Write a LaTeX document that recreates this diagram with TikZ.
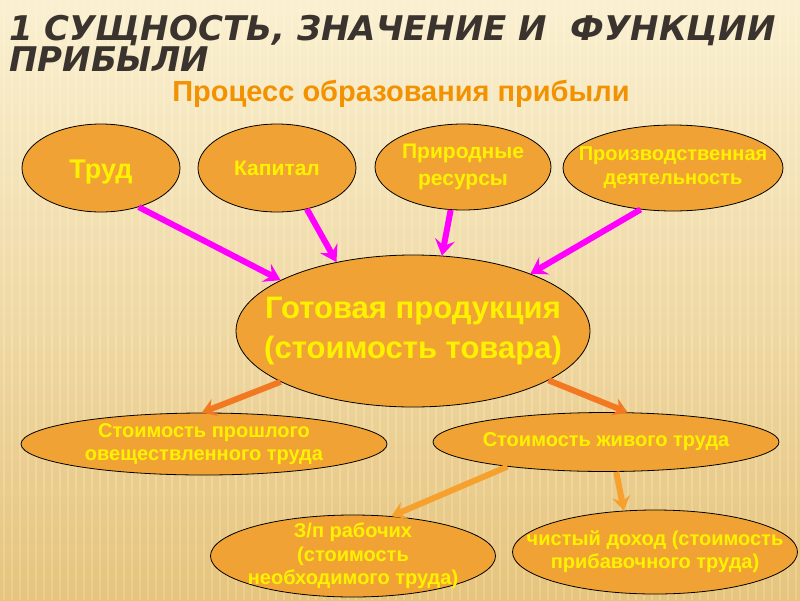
\documentclass[tikz,border=0pt]{standalone}
\usepackage{fontspec}
\setmainfont{Liberation Sans}
\newfontfamily\titlefont{DejaVu Sans}
\usetikzlibrary{shapes.geometric,arrows.meta}
\definecolor{bgtop}{HTML}{FAF0D0}
\definecolor{bgbot}{HTML}{E6C47C}
\definecolor{blobfill}{HTML}{F0A334}
\definecolor{arrpink}{HTML}{FF00FF}
\definecolor{arrorange}{HTML}{F27822}
\definecolor{arrlight}{HTML}{F6A02E}
\definecolor{titlecol}{HTML}{3B332D}
\definecolor{subcol}{HTML}{F29200}
\tikzset{
  blob/.style={ellipse, draw=black, line width=0.8pt, fill=blobfill, inner sep=0pt},
  lbl/.style={text=yellow, align=center, font=\bfseries\fontsize{20}{23}\selectfont},
  ttl/.style={anchor=base west, inner sep=0pt, text=titlecol, font=\titlefont\bfseries\itshape\fontsize{34}{34}\selectfont},
  pinkarr/.style={-{Stealth[length=16pt,width=20pt,inset=6pt]}, line width=6pt, draw=arrpink},
  orarr/.style={-{Stealth[length=14pt,width=18pt,inset=5pt]}, line width=6pt, draw=arrorange},
}
\begin{document}
\begin{tikzpicture}[x=1pt,y=-1pt]
  % фон
  \useasboundingbox (0,0) rectangle (800,600);
  \fill[top color=bgtop, bottom color=bgbot] (0,0) rectangle (800,600);
  \foreach \i in {4,12,...,800}
    \draw[white, opacity=0.18, line width=2pt] (\i,0) -- (\i,600);

  % заголовок
  \node[ttl] (title1) at (9,40) {1 СУЩНОСТЬ, ЗНАЧЕНИЕ И \ ФУНКЦИИ};
  \node[ttl] (title2) at (9,71) {ПРИБЫЛИ};
  \node[anchor=base, text=subcol, font=\bfseries\fontsize{29}{32}\selectfont] (sub) at (401,101) {Процесс образования прибыли};

  % факторы
  \node[blob, minimum width=158pt, minimum height=88pt, label={[lbl, font=\bfseries\fontsize{27}{30}\selectfont, yshift=-4pt]center:Труд}] (trud) at (101,168) {};
  \node[blob, minimum width=158pt, minimum height=88pt, label={[lbl, font=\bfseries\fontsize{21}{24}\selectfont]center:Капитал}] (kap) at (277,168) {};
  \node[blob, minimum width=176pt, minimum height=86pt, label={[lbl, font=\bfseries\fontsize{21}{27}\selectfont]center:Природные\\ресурсы}] (res) at (463,167) {};
  \node[blob, minimum width=220pt, minimum height=86pt, label={[lbl, font=\bfseries\fontsize{20}{24}\selectfont]center:Производственная\\деятельность}] (proizv) at (673,168) {};

  % готовая продукция
  \node[blob, minimum width=354pt, minimum height=152pt, label={[lbl, font=\bfseries\fontsize{31}{40}\selectfont]center:Готовая продукция\\(стоимость товара)}] (gp) at (413,331) {};

  % стоимость
  \node[blob, minimum width=366pt, minimum height=62pt, label={[lbl]center:Стоимость прошлого\\овеществленного труда}] (past) at (204,444) {};
  \node[blob, minimum width=346pt, minimum height=59pt, label={[lbl]center:Стоимость живого труда}] (live) at (606,442) {};
  \node[blob, minimum width=285pt, minimum height=82pt, label={[lbl, font=\bfseries\fontsize{20}{23.5}\selectfont]center:З/п рабочих\\(стоимость\\необходимого труда)}] (zp) at (353,556) {};
  \node[blob, minimum width=285pt, minimum height=84pt, label={[lbl]center:чистый доход (стоимость\\прибавочного труда)}] (net) at (655,552) {};

  % стрелки
  \foreach \s/\a/\b in {trud/-46/159, kap/-54/138, res/-106/69, proizv/-128/26}
    \draw[pinkarr] (\s.\a) -- (gp.\b);
  \draw[orarr] (gp.-159) -- (past.94);
  \draw[orarr] (gp.-20) -- (live.54);
  \draw[orarr, draw=arrlight] (live.-166) -- (zp.46);
  \draw[orarr, draw=arrlight] (live.-71) -- (net.127);
\end{tikzpicture}
\end{document}
